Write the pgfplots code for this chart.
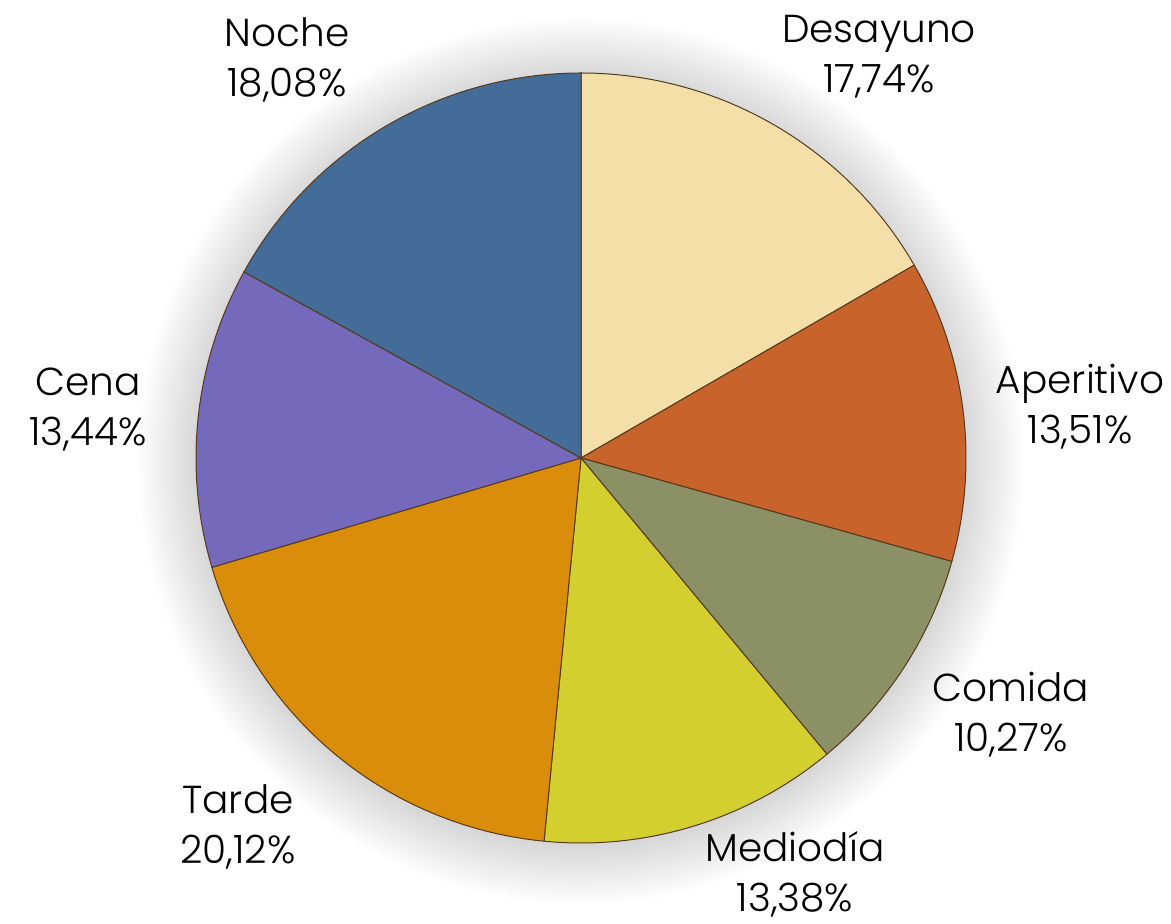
\documentclass[border=0pt]{standalone}
\usepackage{pgfplots}
\pgfplotsset{compat=1.18}
\usepackage{pgfplotstable}
\usepackage{fontspec}
\setmainfont{Poppins Light}

\definecolor{slice0}{HTML}{F5DFA9}
\definecolor{slice1}{HTML}{C8642B}
\definecolor{slice2}{HTML}{8C9165}
\definecolor{slice3}{HTML}{D3CF2E}
\definecolor{slice4}{HTML}{D98D0B}
\definecolor{slice5}{HTML}{7469BA}
\definecolor{slice6}{HTML}{446C98}

\pgfplotstableread{
name value
Desayuno 17.74
Aperitivo 13.51
Comida 10.27
Mediodia 13.38
Tarde 20.12
Cena 13.44
Noche 18.08
}\piedata

\begin{document}
\begin{tikzpicture}
\begin{axis}[scale only axis, width=585.5pt, height=462pt,
  xmin=0, xmax=1171, ymin=0, ymax=924, hide axis, clip=false]
% soft shadow around the pie
\pgfplotsforeachungrouped \k in {1,...,20}{%
  \pgfmathsetmacro\rr{(383+\k*3)*0.5}%
  \edef\cmd{\noexpand\fill[black, opacity=0.0085] (axis cs:581,463) circle[radius=\rr pt];}%
  \cmd
}
% total
\def\total{0}
\pgfplotsforeachungrouped \i in {0,...,6}{%
  \pgfplotstablegetelem{\i}{value}\of\piedata
  \pgfmathsetmacro\total{\total+\pgfplotsretval}%
}
\def\cum{0}
\pgfplotsforeachungrouped \i in {0,...,6}{%
  \pgfplotstablegetelem{\i}{value}\of\piedata
  \pgfmathsetmacro\sA{90-(\cum/\total)*360}%
  \pgfmathsetmacro\cum{\cum+\pgfplotsretval}%
  \pgfmathsetmacro\sB{90-(\cum/\total)*360}%
  \edef\cmd{\noexpand\addplot[fill=slice\i, draw=black!55!brown, line width=0.5pt, mark=none,
     domain=\sB:\sA, samples=90, variable=\noexpand\t]
     ({581+385*cos(\noexpand\t)},{466+385*sin(\noexpand\t)}) -- (axis cs:581,466) -- cycle;}%
  \cmd
}
\tikzset{lbl/.style={align=center, font=\fontsize{19.5}{25}\selectfont, text=black}}
\node[lbl] at (axis cs:287,864) {Noche\\18,08\%};
\node[lbl] at (axis cs:879,867) {Desayuno\\17,74\%};
\node[lbl] at (axis cs:1080,517) {Aperitivo\\13,51\%};
\node[lbl] at (axis cs:88,514) {Cena\\13,44\%};
\node[lbl] at (axis cs:1011,209) {Comida\\10,27\%};
\node[lbl] at (axis cs:238,97) {Tarde\\20,12\%};
\node[lbl] at (axis cs:795,50) {Mediodía\\13,38\%};
\end{axis}
\pgfresetboundingbox
\path (current axis.south west) rectangle (current axis.north east);
\end{tikzpicture}
\end{document}
